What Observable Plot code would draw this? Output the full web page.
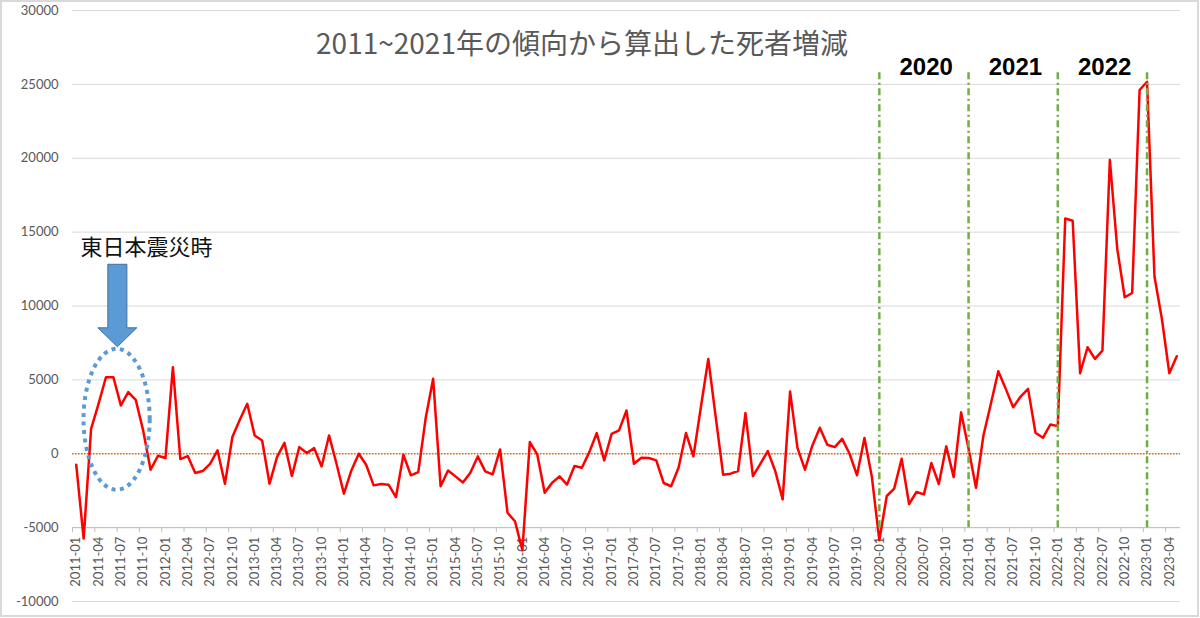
<!DOCTYPE html>
<html>
<head>
<meta charset="utf-8">
<script src="https://cdn.jsdelivr.net/npm/d3@7"></script>
<script src="https://cdn.jsdelivr.net/npm/@observablehq/plot@0.6"></script>
<style>
  body { margin: 0; background: #fff; }
  #wrap { position: relative; width: 1200px; height: 618px; overflow: hidden; }
  #border { position: absolute; left: 0; top: 0; width: 1199px; height: 617px; box-sizing: border-box; border: 2px solid #d9d9d9; pointer-events: none; }
</style>
</head>
<body>
<div id="wrap"><div id="chart"></div><div id="border"></div></div>
<script>
// ---- data (monthly excess deaths vs 2011~2021 trend) ----
const startYear = 2011;
const v2011 = [-740, -5740, 1690, 3380, 5180, 5180, 3270, 4170, 3650, 1580, -1080, -135];
const v2012 = [-290, 5860, -360, -160, -1300, -1170, -680, 225, -2030, 1130, 2300, 3380];
const v2013 = [1240, 900, -2030, -225, 740, -1510, 450, 45, 380, -860, 1240, -680];
const v2014 = [-2700, -1130, 0, -760, -2140, -2050, -2090, -2930, -70, -1460, -1240, 2430];
const v2015 = [5070, -2200, -1130, -1530, -1940, -1280, -180, -1190, -1400, 290, -3990, -4570];
const v2016 = [-6530, 790, -45, -2640, -1960, -1530, -2090, -830, -950, 110, 1400, -450];
const v2017 = [1350, 1580, 2930, -680, -270, -290, -450, -1980, -2200, -950, 1400, -180];
const v2018 = [3150, 6420, 2480, -1420, -1350, -1170, 2750, -1510, -680, 180, -1170, -3090];
const v2019 = [4210, 380, -1080, 560, 1760, 610, 450, 1010, 0, -1460, 1060, -1580];
const v2020 = [-5860, -2860, -2360, -340, -3400, -2590, -2750, -630, -2050, 500, -1580, 2800];
const v2021 = [340, -2300, 1240, 3380, 5590, 4390, 3150, 3870, 4390, 1420, 1080, 1980];
const v2022 = [1870, 15920, 15770, 5450, 7210, 6420, 6980, 19890, 13850, 10590, 10880, 24620];
const v2023 = [25180, 12000, 9120, 5450, 6600];

const yTicks = [-10000, -5000, 0, 5000, 10000, 15000, 20000, 25000, 30000];
const dividerYears = [2020, 2021, 2022, 2023];
const periodLabels = ["2020", "2021", "2022"];
const titleText = "2011~2021年の傾向から算出した死者増減";
const quakeLabel = "東日本震災時";

// ---- build table ----
const values = [...v2011, ...v2012, ...v2013, ...v2014, ...v2015, ...v2016, ...v2017,
                ...v2018, ...v2019, ...v2020, ...v2021, ...v2022, ...v2023];
const data = values.map((v, i) => ({
  i,
  v,
  label: `${startYear + Math.floor(i / 12)}-${String((i % 12) + 1).padStart(2, "0")}`
}));
const tickLabels = data.filter(d => d.i % 3 === 0);
const boundaryTicks = d3.range(-0.5, values.length - 1, 3);
const dividers = dividerYears.map(y => ({year: y, i: (y - startYear) * 12}));
const periods = periodLabels.map(s => ({text: s, i: (+s - startYear) * 12 + 6.3}));

// annotation (earthquake highlight) in data units
const quake = {textX: 0.58, textY: 13960, cx: 5.5, cy: 2300, rx: 4.45, ry: 4770,
               ax: 5.6, shaftTop: 12790, headBase: 8490, tip: 7210, shaftHalf: 1.28, headHalf: 2.62};

function quakeMark(index, scales) {
  const s = scales && typeof scales.x === "function" ? scales : index;
  const x = s.x, y = s.y;
  const g = d3.create("svg:g");
  const cx = x(quake.cx), cy = y(quake.cy);
  g.append("ellipse")
    .attr("cx", cx).attr("cy", cy)
    .attr("rx", x(quake.cx + quake.rx) - cx)
    .attr("ry", y(quake.cy - quake.ry) - cy)
    .attr("fill", "none").attr("stroke", "#5B9BD5")
    .attr("stroke-width", 4).attr("stroke-dasharray", "4,4.5");
  const ax = x(quake.ax);
  const sw = x(quake.ax + quake.shaftHalf) - ax;
  const hw = x(quake.ax + quake.headHalf) - ax;
  const yt = y(quake.shaftTop), yb = y(quake.headBase), yp = y(quake.tip);
  g.append("path")
    .attr("d", `M${ax - sw},${yt}H${ax + sw}V${yb}H${ax + hw}L${ax},${yp}L${ax - hw},${yb}H${ax - sw}Z`)
    .attr("fill", "#5B9BD5").attr("stroke", "#41719C").attr("stroke-width", 1);
  return g.node();
}

const chart = Plot.plot({
  width: 1200,
  height: 618,
  marginLeft: 72,
  marginRight: 20,
  marginTop: 10,
  marginBottom: 17,
  style: {fontFamily: "Lato, sans-serif", fontSize: "13px", background: "white", overflow: "visible"},
  x: {domain: [-0.5, values.length - 0.5], axis: null},
  y: {domain: [-10000, 30000], axis: null},
  marks: [
    Plot.gridY({ticks: yTicks, stroke: "#d9d9d9", strokeOpacity: 1, strokeWidth: 1}),
    Plot.ruleY([-5000], {stroke: "#bfbfbf", strokeWidth: 1}),
    Plot.ruleX(boundaryTicks, {x: d => d, y1: -5000, y2: -5340, stroke: "#bfbfbf", strokeWidth: 1}),
    Plot.text(tickLabels, {
      x: "i", y: -5000, text: "label", rotate: -90, textAnchor: "end", lineAnchor: "middle",
      dy: 9, fontSize: 13, fill: "#595959"
    }),
    Plot.axisY({ticks: yTicks, tickSize: 0, tickPadding: 14, fontSize: 13, fill: "#595959", label: null, tickFormat: d => String(d)}),
    Plot.ruleY([0], {stroke: "#E2700F", strokeWidth: 1.3, strokeDasharray: "1.5,1.5"}),
    Plot.line(data, {x: "i", y: "v", stroke: "#FF0000", strokeWidth: 2.5}),
    Plot.ruleX(dividers, {x: "i", y1: -5000, y2: 26000, stroke: "#70AD47", strokeWidth: 2.5, strokeDasharray: "7,3.5,2,3.5"}),
    Plot.text(periods, {
      x: "i", text: "text", frameAnchor: "top", dy: 57, lineAnchor: "middle",
      fontFamily: "Liberation Sans, Arial, sans-serif", fontWeight: "bold", fontSize: 24, fill: "#000"
    }),
    Plot.text([quakeLabel], {
      x: quake.textX, y: quake.textY, text: d => d, textAnchor: "start", lineAnchor: "middle",
      fontFamily: "Noto Sans CJK JP, sans-serif", fontSize: 22, fill: "#111"
    }),
    quakeMark,
    Plot.text([titleText], {
      text: d => d, frameAnchor: "top-left", dx: 509.5, dy: 35, textAnchor: "middle", lineAnchor: "middle",
      fontFamily: "Noto Sans CJK JP, sans-serif", fontSize: 28, fill: "#595959"
    })
  ]
});
document.getElementById("chart").appendChild(chart);
</script>
</body>
</html>
